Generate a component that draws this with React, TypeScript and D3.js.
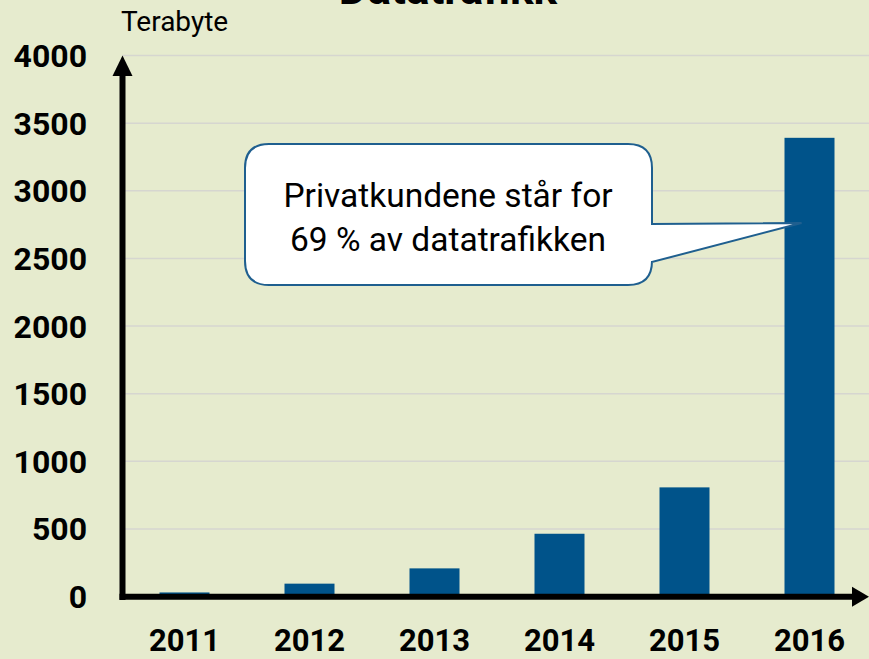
import React, { useMemo } from "react";
import * as d3 from "d3";

const WIDTH = 869;
const HEIGHT = 659;

const years = ["2011", "2012", "2013", "2014", "2015", "2016"];
const traffic = [30, 95, 208, 464, 807, 3392];
const yTicks = [0, 500, 1000, 1500, 2000, 2500, 3000, 3500, 4000];

const title = "Datatrafikk";
const unitLabel = "Terabyte";
const calloutLines = ["Privatkundene står for", "69 % av datatrafikken"];

const BG = "#e6ebce";
const BAR = "#00538a";
const FONT = "Roboto, 'Open Sans', sans-serif";

const App = () => {
  const xScale = useMemo(
    () =>
      d3
        .scaleBand()
        .domain(years)
        .range([122, 872])
        .paddingInner(0.6)
        .paddingOuter(0.3),
    []
  );

  const yScale = useMemo(
    () => d3.scaleLinear().domain([0, 4000]).range([596.5, 55.6]),
    []
  );

  const y0 = yScale(0);
  const axisX = 122.5;

  const grid = yTicks.map((t) => (
    <g key={t}>
      {t > 0 && (
        <line
          x1={axisX}
          x2={WIDTH}
          y1={yScale(t)}
          y2={yScale(t)}
          stroke="#d6d6d0"
          strokeWidth={1.5}
        />
      )}
      <text
        x={87}
        y={yScale(t)}
        dy="0.36em"
        textAnchor="end"
        fontFamily={FONT}
        fontWeight="bold"
        fontSize={32}
        fill="#000"
      >
        {t}
      </text>
    </g>
  ));

  const bars = years.map((yr, i) => {
    const x = xScale(yr);
    if (x === undefined) return null;
    return (
      <g key={yr}>
        <rect
          x={x}
          width={xScale.bandwidth()}
          y={yScale(traffic[i])}
          height={y0 - yScale(traffic[i])}
          fill={BAR}
        />
        <text
          x={x + xScale.bandwidth() / 2}
          y={651}
          textAnchor="middle"
          fontFamily={FONT}
          fontWeight="bold"
          fontSize={31}
          fill="#000"
        >
          {yr}
        </text>
      </g>
    );
  });

  // callout box with tail pointing to the 2016 bar
  const bx0 = 245;
  const bx1 = 652;
  const by0 = 144;
  const by1 = 285;
  const r = 24;
  const tipX = (xScale("2016") ?? 0) + 17;
  const tipY = 223;
  const calloutPath = [
    `M${bx0 + r},${by0}`,
    `H${bx1 - r}`,
    `Q${bx1},${by0} ${bx1},${by0 + r}`,
    `V224`,
    `L${tipX},${tipY}`,
    `L${bx1},262`,
    `V${by1 - r}`,
    `Q${bx1},${by1} ${bx1 - r},${by1}`,
    `H${bx0 + r}`,
    `Q${bx0},${by1} ${bx0},${by1 - r}`,
    `V${by0 + r}`,
    `Q${bx0},${by0} ${bx0 + r},${by0}`,
    "Z",
  ].join(" ");

  return (
    <div style={{ position: "fixed", left: 0, top: 0 }}>
      <svg width={WIDTH} height={HEIGHT} style={{ display: "block" }}>
        <rect x={0} y={0} width={WIDTH} height={HEIGHT} fill={BG} />
        <text
          x={448}
          y={4}
          textAnchor="middle"
          fontFamily={FONT}
          fontWeight="bold"
          fontSize={44}
          fill="#000"
        >
          {title}
        </text>
        <text x={121} y={31} fontFamily={FONT} fontSize={28} fill="#000">
          {unitLabel}
        </text>
        {grid}
        {bars}
        {/* y axis with arrow */}
        <line x1={axisX} x2={axisX} y1={600} y2={72} stroke="#000" strokeWidth={6} />
        <path d={`M${axisX},55.6 L${axisX + 10},76 L${axisX - 10},76 Z`} fill="#000" />
        {/* x axis with arrow */}
        <line x1={119.5} x2={854} y1={596.7} y2={596.7} stroke="#000" strokeWidth={6} />
        <path d={`M869,596.7 L852,586.7 L852,606.7 Z`} fill="#000" />
        {/* callout */}
        <path d={calloutPath} fill="#fff" stroke="#1f5f8f" strokeWidth={2} />
        {calloutLines.map((line, i) => (
          <text
            key={i}
            x={448}
            y={207 + i * 44}
            textAnchor="middle"
            fontFamily={FONT}
            fontSize={33.5}
            fill="#000"
          >
            {line}
          </text>
        ))}
      </svg>
    </div>
  );
};

export default App;
